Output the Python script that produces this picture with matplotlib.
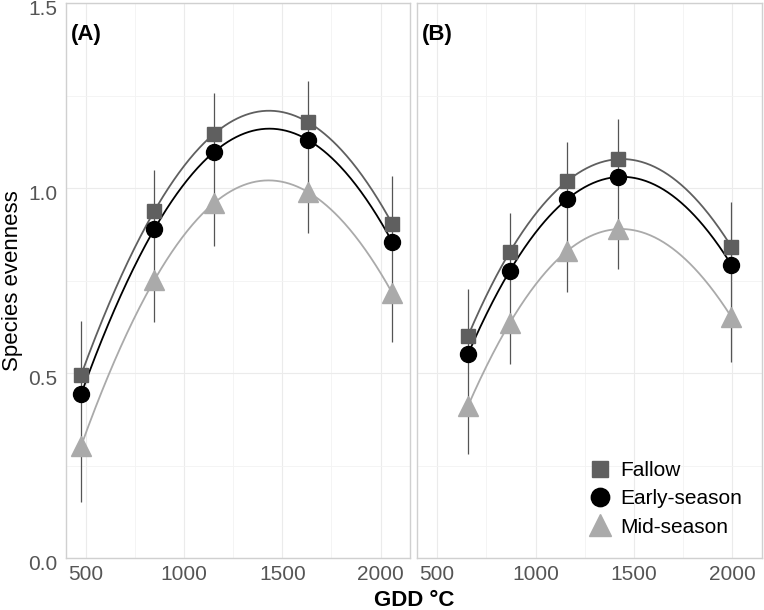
import numpy as np
import matplotlib
matplotlib.use("Agg")
import matplotlib.pyplot as plt
import matplotlib.transforms as mtransforms
from matplotlib.lines import Line2D

plt.rcParams['font.family'] = ['Liberation Sans', 'DejaVu Sans']

# dane
series = ["Fallow", "Early-season", "Mid-season"]

gdd_a = [475, 848, 1151, 1631, 2060]
fallow_a = [0.495, 0.938, 1.146, 1.178, 0.903]
early_a = [0.443, 0.889, 1.097, 1.130, 0.854]
mid_a = [0.303, 0.751, 0.959, 0.989, 0.716]
err_lo_a = [0.151, 0.638, 0.843, 0.878, 0.584]
err_hi_a = [0.640, 1.049, 1.257, 1.289, 1.032]

gdd_b = [657, 869, 1161, 1419, 1995]
fallow_b = [0.600, 0.827, 1.019, 1.078, 0.841]
early_b = [0.551, 0.776, 0.970, 1.030, 0.792]
mid_b = [0.411, 0.635, 0.830, 0.889, 0.651]
err_lo_b = [0.281, 0.524, 0.719, 0.781, 0.530]
err_hi_b = [0.727, 0.932, 1.124, 1.186, 0.962]

colors = {"Fallow": "#5f5f5f", "Early-season": "#000000", "Mid-season": "#aaaaaa"}
markers = {"Fallow": "s", "Early-season": "o", "Mid-season": "^"}
msizes = {"Fallow": 10, "Early-season": 11.5, "Mid-season": 14}


def knot_spline(x, y, xs):
    # splajn szescienny z jednym wezlem w srodkowym punkcie (jak bs(x, df=4))
    x = np.asarray(x, float)
    y = np.asarray(y, float)
    k = (x[2] - 1000) / 1000

    def basis(v):
        u = (np.asarray(v, float) - 1000) / 1000
        return np.column_stack([np.ones_like(u), u, u ** 2, u ** 3,
                                np.clip(u - k, 0, None) ** 3])

    coef = np.linalg.solve(basis(x), y)
    return basis(xs) @ coef


def draw_panel(ax, gdd, vals, lo, hi, label):
    ax.set_xlim(398, 2150)
    ax.set_ylim(0, 1.5)
    ax.set_xticks([500, 1000, 1500, 2000])
    ax.set_xticks([750, 1250, 1750], minor=True)
    ax.set_yticks([0, 0.5, 1.0, 1.5])
    ax.set_yticks([0.25, 0.75, 1.25], minor=True)
    ax.set_yticklabels(["0.0", "0.5", "1.0", "1.5"])
    ax.grid(True, which="major", color="#ebebeb", lw=0.8)
    ax.grid(True, which="minor", color="#f3f3f3", lw=0.6)
    ax.set_axisbelow(True)
    for sp in ax.spines.values():
        sp.set_color("#d0d0d0")
        sp.set_linewidth(1.0)
    ax.tick_params(which="both", length=0, labelsize=15, labelcolor="#555555")
    ax.tick_params(axis="x", pad=5)
    ax.tick_params(axis="y", pad=6)

    ax.vlines(gdd, lo, hi, color="#555555", lw=0.9, zorder=2)
    xs = np.linspace(gdd[0], gdd[-1], 300)
    for name, v in zip(series, vals):
        ax.plot(xs, knot_spline(gdd, v, xs), color=colors[name], lw=1.3, zorder=3)
        ax.plot(gdd, v, ls="none", marker=markers[name], ms=msizes[name],
                color=colors[name], mec=colors[name], zorder=4)
    ax.text(0.013, 0.962, label, transform=ax.transAxes, fontsize=16,
            fontweight="bold", va="top", ha="left")


fig = plt.figure(figsize=(7.64, 6.10), dpi=100)
ax_a = fig.add_axes([0.0864, 0.0852, 0.4502, 0.9098])
ax_b = fig.add_axes([0.5458, 0.0852, 0.4516, 0.9098])

draw_panel(ax_a, gdd_a, [fallow_a, early_a, mid_a], err_lo_a, err_hi_a, "(A)")
draw_panel(ax_b, gdd_b, [fallow_b, early_b, mid_b], err_lo_b, err_hi_b, "(B)")
ax_b.set_yticklabels([])

# etykiety osi y troche nizej, zeby 1.5 sie miescilo
shift = mtransforms.ScaledTranslation(0, -4 / 100, fig.dpi_scale_trans)
for t in ax_a.get_yticklabels():
    t.set_transform(t.get_transform() + shift)

fig.text(0.016, 0.54, "Species evenness", rotation=90, ha="center", va="center", fontsize=16)
fig.text(0.542, 0.006, "GDD °C", ha="center", va="baseline", fontsize=16, fontweight="bold")

handles = [Line2D([], [], ls="none", marker=markers[n], ms=msizes[n], color=colors[n]) for n in series]
ax_b.legend(handles, series, loc="lower right", bbox_to_anchor=(0.985, 0.012), frameon=False,
            fontsize=15, handletextpad=0.2, labelspacing=0.45, borderpad=0.2,
            markerscale=1.15, handlelength=1.6)

fig.savefig("out.png", dpi=100)
